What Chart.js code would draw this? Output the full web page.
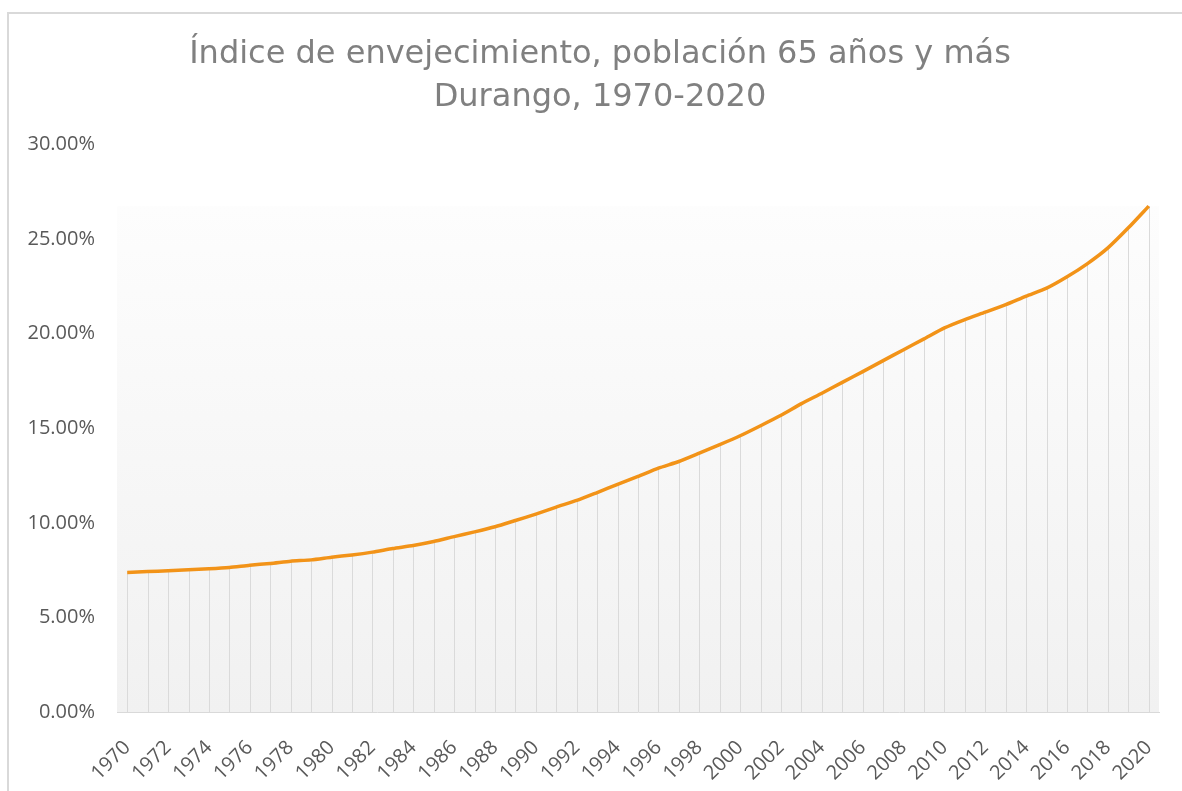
<!DOCTYPE html>
<html>
<head>
<meta charset="utf-8">
<script src="https://cdn.jsdelivr.net/npm/chart.js@4"></script>
<style>
  html, body { margin: 0; padding: 0; background: #ffffff; }
  #wrap { position: relative; width: 1182px; height: 791px; }
</style>
</head>
<body>
<div id="wrap"><canvas id="c" width="1182" height="791"></canvas></div>
<script>
// ---- Data ----
const titleLines = ['Índice de envejecimiento, población 65 años y más', 'Durango, 1970-2020'];
const years = [];
for (let y = 1970; y <= 2020; y++) years.push(String(y));
const indice = [
  7.37, 7.42, 7.47, 7.52, 7.57, 7.64, 7.76, 7.85, 7.97, 8.04,
  8.18, 8.30, 8.45, 8.64, 8.80, 9.01, 9.27, 9.52, 9.79, 10.12,
  10.46, 10.83, 11.18, 11.60, 12.03, 12.45, 12.89, 13.24, 13.68, 14.13,
  14.60, 15.13, 15.68, 16.30, 16.85, 17.42, 17.99, 18.57, 19.15, 19.72,
  20.30, 20.74, 21.13, 21.53, 21.98, 22.40, 23.00, 23.70, 24.53, 25.59,
  26.74
];
const yTicks = [0, 5, 10, 15, 20, 25, 30];

// ---- Plugins ----
const backdrop = {
  id: 'backdrop',
  beforeDraw(chart) {
    const ctx = chart.ctx, a = chart.chartArea, ys = chart.scales.y;
    ctx.save();
    // outer chart frame
    ctx.strokeStyle = '#d9d9d9';
    ctx.lineWidth = 2;
    ctx.strokeRect(8, 13, chart.width + 20, chart.height + 20);
    // gradient plot band from max value to zero
    const top = ys.getPixelForValue(Math.max(...indice));
    const bottom = ys.getPixelForValue(0);
    const g = ctx.createLinearGradient(0, top, 0, bottom);
    g.addColorStop(0, '#fdfdfd');
    g.addColorStop(1, '#f1f1f1');
    ctx.fillStyle = g;
    ctx.fillRect(a.left, top, a.right - a.left, bottom - top);
    ctx.restore();
  },
  beforeDatasetsDraw(chart) {
    const ctx = chart.ctx, ys = chart.scales.y;
    const meta = chart.getDatasetMeta(0);
    const base = ys.getPixelForValue(0);
    ctx.save();
    ctx.strokeStyle = '#dadada';
    ctx.lineWidth = 1;
    meta.data.forEach(pt => {
      const x = Math.round(pt.x) + 0.5;
      ctx.beginPath();
      ctx.moveTo(x, pt.y);
      ctx.lineTo(x, base);
      ctx.stroke();
    });
    ctx.restore();
  }
};

new Chart(document.getElementById('c'), {
  type: 'line',
  data: {
    labels: years,
    datasets: [{
      data: indice,
      borderColor: '#f29318',
      borderWidth: 3.5,
      pointRadius: 0,
      tension: 0.2,
      fill: false
    }]
  },
  options: {
    responsive: false,
    animation: false,
    layout: { padding: { left: 18, right: 0, top: 0, bottom: 0 } },
    plugins: {
      legend: { display: false },
      tooltip: { enabled: false },
      title: {
        display: true,
        text: titleLines,
        color: '#808080',
        font: { family: 'DejaVu Sans', size: 32, weight: 'normal', lineHeight: 1.35 },
        padding: { top: 33, bottom: 25 }
      }
    },
    scales: {
      x: {
        offset: true,
        grid: { display: false, drawTicks: false },
        border: { display: true, color: '#d9d9d9', width: 1 },
        ticks: {
          autoSkip: false,
          minRotation: 45,
          maxRotation: 45,
          padding: 24,
          color: '#595959',
          font: { family: 'Open Sans', size: 20 },
          callback: function(v, i) { return i % 2 === 0 ? this.getLabelForValue(v) : ''; }
        },
        afterFit(s) { s.height = 79; s.paddingLeft = 0; s.paddingRight = 0; }
      },
      y: {
        min: 0,
        max: 30,
        grid: { display: false, drawTicks: false },
        border: { display: false },
        afterBuildTicks(s) { s.ticks = yTicks.map(v => ({ value: v })); },
        ticks: {
          padding: 22,
          color: '#595959',
          font: { family: 'Open Sans', size: 20 },
          callback: v => v.toFixed(2) + '%'
        },
        afterFit(s) { s.width = 99; s.paddingTop = 0; s.paddingBottom = 0; }
      },
      yRight: {
        position: 'right',
        display: true,
        grid: { display: false, drawTicks: false },
        border: { display: false },
        ticks: { display: false },
        afterFit(s) { s.width = 23; }
      }
    }
  },
  plugins: [backdrop]
});
</script>
</body>
</html>
